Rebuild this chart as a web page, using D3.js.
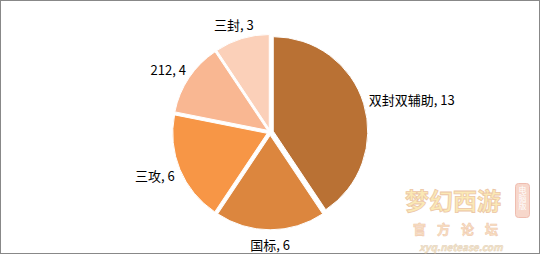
<!DOCTYPE html>
<html>
<head>
<meta charset="utf-8">
<script src="https://cdn.jsdelivr.net/npm/d3@7"></script>
<style>
  html, body { margin: 0; padding: 0; background: #fff; }
  svg { display: block; }
  text { font-family: "Noto Sans CJK SC", "Noto Sans", sans-serif; }
</style>
</head>
<body>
<svg id="chart" width="541" height="255"></svg>
<script>
// ---- data ----
const categories = ["双封双辅助", "国标", "三攻", "212", "三封"];
const values = [13, 6, 6, 4, 3];
const colors = ["#B97134", "#DC863E", "#F79646", "#F9B792", "#FBD0B9"];

// ---- layout ----
const cx = 270.2, cy = 132.1;
const radius = 94.5;
const explode = 3.2;
const labelR = 105;

const svg = d3.select("#chart");

// frame
svg.append("rect")
  .attr("x", 0.5).attr("y", 0.5)
  .attr("width", 539).attr("height", 253)
  .attr("fill", "#fff")
  .attr("stroke", "#888").attr("stroke-width", 1);

// watermark (approximation of forum logo)
const wm = svg.append("g").attr("opacity", 0.65);
wm.append("text").attr("x", 453).attr("y", 210)
  .attr("text-anchor", "middle")
  .attr("font-size", 24).attr("font-weight", "bold")
  .attr("fill", "#F9DE8E").attr("stroke", "#E3A878").attr("stroke-width", 0.8)
  .text("梦幻西游");
wm.append("rect").attr("x", 515.5).attr("y", 183.5).attr("width", 14).attr("height", 34)
  .attr("rx", 3).attr("fill", "#F3C3B0").attr("stroke", "#E79A86");
wm.append("text").attr("x", 522.5).attr("y", 186)
  .attr("font-size", 8).attr("fill", "#fff")
  .attr("writing-mode", "tb").text("电脑版");
wm.append("text").attr("x", 461).attr("y", 234)
  .attr("text-anchor", "middle")
  .attr("font-size", 13).attr("font-weight", "bold").attr("letter-spacing", 11)
  .attr("fill", "#F6CFA0").attr("stroke", "#E8AE88").attr("stroke-width", 0.6)
  .text("官方论坛");
wm.append("text").attr("x", 461).attr("y", 251)
  .attr("text-anchor", "middle")
  .attr("font-size", 10).attr("font-weight", "bold").attr("font-style", "italic")
  .attr("fill", "#F2D9A8").attr("stroke", "#D3B898").attr("stroke-width", 0.5)
  .text("xyq.netease.com");

// ---- pie ----
const pie = d3.pie().sort(null).value(d => d.value);
const data = pie(categories.map((c, i) => ({ name: c, value: values[i], color: colors[i] })));

const arc = d3.arc().innerRadius(0).outerRadius(radius);
const offsetArc = d3.arc().innerRadius(explode).outerRadius(explode);
const labelArc = d3.arc().innerRadius(labelR).outerRadius(labelR);

const g = svg.append("g").attr("transform", `translate(${cx},${cy})`);

g.selectAll("path.slice")
  .data(data)
  .join("path")
  .attr("class", "slice")
  .attr("transform", d => {
    const [ox, oy] = offsetArc.centroid(d);
    return `translate(${ox},${oy})`;
  })
  .attr("d", arc)
  .attr("fill", d => d.data.color)
  .attr("stroke", "#fff")
  .attr("stroke-width", 1);

// labels: placed outside end, box positioned by angle
const fontSize = 13, boxH = 15;
g.selectAll("text.lbl")
  .data(data)
  .join("text")
  .attr("class", "lbl")
  .attr("font-size", fontSize)
  .attr("fill", "#000")
  .attr("dominant-baseline", "central")
  .attr("text-anchor", "middle")
  .text(d => `${d.data.name}, ${d.data.value}`)
  .each(function(d) {
    const w = this.getComputedTextLength();
    const [px, py] = labelArc.centroid(d);
    const a = (d.startAngle + d.endAngle) / 2;
    const sx = Math.sin(a), sy = -Math.cos(a);
    d3.select(this)
      .attr("x", px + sx / 2 * w)
      .attr("y", py + sy / 2 * boxH);
  });
</script>
</body>
</html>
